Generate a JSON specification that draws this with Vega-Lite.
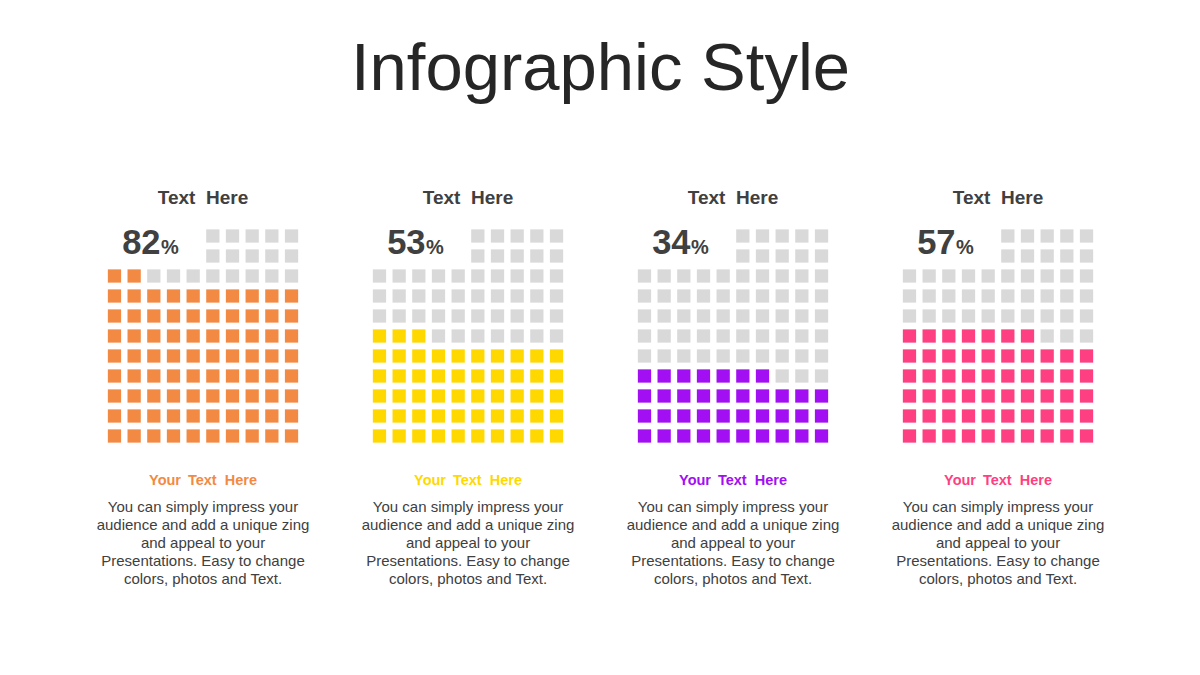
{
"$schema": "https://vega.github.io/schema/vega-lite/v6.json",
"background": "white",
"padding": {"left": 88, "top": 36, "right": 0, "bottom": 0},
"title": {"text": "Infographic Style", "fontSize": 67, "font": "Liberation Sans", "fontWeight": "normal", "color": "#262626", "anchor": "middle", "offset": 72},
"data": {"values": [
{"p":"A","pct":"82","head":"Text\u00a0 Here","sub":"Your\u2009 Text\u00a0 Here","body":["You can simply impress your","audience and add a unique zing","and appeal to your","Presentations. Easy to change","colors, photos and Text."]},
{"p":"B","pct":"53","head":"Text\u00a0 Here","sub":"Your\u2009 Text\u00a0 Here","body":["You can simply impress your","audience and add a unique zing","and appeal to your","Presentations. Easy to change","colors, photos and Text."]},
{"p":"C","pct":"34","head":"Text\u00a0 Here","sub":"Your\u2009 Text\u00a0 Here","body":["You can simply impress your","audience and add a unique zing","and appeal to your","Presentations. Easy to change","colors, photos and Text."]},
{"p":"D","pct":"57","head":"Text\u00a0 Here","sub":"Your\u2009 Text\u00a0 Here","body":["You can simply impress your","audience and add a unique zing","and appeal to your","Presentations. Easy to change","colors, photos and Text."]},

{"p":"A","r":1,"c":6,"f":0},{"p":"A","r":1,"c":7,"f":0},{"p":"A","r":1,"c":8,"f":0},{"p":"A","r":1,"c":9,"f":0},{"p":"A","r":1,"c":10,"f":0},
{"p":"A","r":2,"c":6,"f":0},{"p":"A","r":2,"c":7,"f":0},{"p":"A","r":2,"c":8,"f":0},{"p":"A","r":2,"c":9,"f":0},{"p":"A","r":2,"c":10,"f":0},
{"p":"A","r":3,"c":1,"f":1},{"p":"A","r":3,"c":2,"f":1},{"p":"A","r":3,"c":3,"f":0},{"p":"A","r":3,"c":4,"f":0},{"p":"A","r":3,"c":5,"f":0},{"p":"A","r":3,"c":6,"f":0},{"p":"A","r":3,"c":7,"f":0},{"p":"A","r":3,"c":8,"f":0},{"p":"A","r":3,"c":9,"f":0},{"p":"A","r":3,"c":10,"f":0},
{"p":"A","r":4,"c":1,"f":1},{"p":"A","r":4,"c":2,"f":1},{"p":"A","r":4,"c":3,"f":1},{"p":"A","r":4,"c":4,"f":1},{"p":"A","r":4,"c":5,"f":1},{"p":"A","r":4,"c":6,"f":1},{"p":"A","r":4,"c":7,"f":1},{"p":"A","r":4,"c":8,"f":1},{"p":"A","r":4,"c":9,"f":1},{"p":"A","r":4,"c":10,"f":1},
{"p":"A","r":5,"c":1,"f":1},{"p":"A","r":5,"c":2,"f":1},{"p":"A","r":5,"c":3,"f":1},{"p":"A","r":5,"c":4,"f":1},{"p":"A","r":5,"c":5,"f":1},{"p":"A","r":5,"c":6,"f":1},{"p":"A","r":5,"c":7,"f":1},{"p":"A","r":5,"c":8,"f":1},{"p":"A","r":5,"c":9,"f":1},{"p":"A","r":5,"c":10,"f":1},
{"p":"A","r":6,"c":1,"f":1},{"p":"A","r":6,"c":2,"f":1},{"p":"A","r":6,"c":3,"f":1},{"p":"A","r":6,"c":4,"f":1},{"p":"A","r":6,"c":5,"f":1},{"p":"A","r":6,"c":6,"f":1},{"p":"A","r":6,"c":7,"f":1},{"p":"A","r":6,"c":8,"f":1},{"p":"A","r":6,"c":9,"f":1},{"p":"A","r":6,"c":10,"f":1},
{"p":"A","r":7,"c":1,"f":1},{"p":"A","r":7,"c":2,"f":1},{"p":"A","r":7,"c":3,"f":1},{"p":"A","r":7,"c":4,"f":1},{"p":"A","r":7,"c":5,"f":1},{"p":"A","r":7,"c":6,"f":1},{"p":"A","r":7,"c":7,"f":1},{"p":"A","r":7,"c":8,"f":1},{"p":"A","r":7,"c":9,"f":1},{"p":"A","r":7,"c":10,"f":1},
{"p":"A","r":8,"c":1,"f":1},{"p":"A","r":8,"c":2,"f":1},{"p":"A","r":8,"c":3,"f":1},{"p":"A","r":8,"c":4,"f":1},{"p":"A","r":8,"c":5,"f":1},{"p":"A","r":8,"c":6,"f":1},{"p":"A","r":8,"c":7,"f":1},{"p":"A","r":8,"c":8,"f":1},{"p":"A","r":8,"c":9,"f":1},{"p":"A","r":8,"c":10,"f":1},
{"p":"A","r":9,"c":1,"f":1},{"p":"A","r":9,"c":2,"f":1},{"p":"A","r":9,"c":3,"f":1},{"p":"A","r":9,"c":4,"f":1},{"p":"A","r":9,"c":5,"f":1},{"p":"A","r":9,"c":6,"f":1},{"p":"A","r":9,"c":7,"f":1},{"p":"A","r":9,"c":8,"f":1},{"p":"A","r":9,"c":9,"f":1},{"p":"A","r":9,"c":10,"f":1},
{"p":"A","r":10,"c":1,"f":1},{"p":"A","r":10,"c":2,"f":1},{"p":"A","r":10,"c":3,"f":1},{"p":"A","r":10,"c":4,"f":1},{"p":"A","r":10,"c":5,"f":1},{"p":"A","r":10,"c":6,"f":1},{"p":"A","r":10,"c":7,"f":1},{"p":"A","r":10,"c":8,"f":1},{"p":"A","r":10,"c":9,"f":1},{"p":"A","r":10,"c":10,"f":1},
{"p":"A","r":11,"c":1,"f":1},{"p":"A","r":11,"c":2,"f":1},{"p":"A","r":11,"c":3,"f":1},{"p":"A","r":11,"c":4,"f":1},{"p":"A","r":11,"c":5,"f":1},{"p":"A","r":11,"c":6,"f":1},{"p":"A","r":11,"c":7,"f":1},{"p":"A","r":11,"c":8,"f":1},{"p":"A","r":11,"c":9,"f":1},{"p":"A","r":11,"c":10,"f":1},

{"p":"B","r":1,"c":6,"f":0},{"p":"B","r":1,"c":7,"f":0},{"p":"B","r":1,"c":8,"f":0},{"p":"B","r":1,"c":9,"f":0},{"p":"B","r":1,"c":10,"f":0},
{"p":"B","r":2,"c":6,"f":0},{"p":"B","r":2,"c":7,"f":0},{"p":"B","r":2,"c":8,"f":0},{"p":"B","r":2,"c":9,"f":0},{"p":"B","r":2,"c":10,"f":0},
{"p":"B","r":3,"c":1,"f":0},{"p":"B","r":3,"c":2,"f":0},{"p":"B","r":3,"c":3,"f":0},{"p":"B","r":3,"c":4,"f":0},{"p":"B","r":3,"c":5,"f":0},{"p":"B","r":3,"c":6,"f":0},{"p":"B","r":3,"c":7,"f":0},{"p":"B","r":3,"c":8,"f":0},{"p":"B","r":3,"c":9,"f":0},{"p":"B","r":3,"c":10,"f":0},
{"p":"B","r":4,"c":1,"f":0},{"p":"B","r":4,"c":2,"f":0},{"p":"B","r":4,"c":3,"f":0},{"p":"B","r":4,"c":4,"f":0},{"p":"B","r":4,"c":5,"f":0},{"p":"B","r":4,"c":6,"f":0},{"p":"B","r":4,"c":7,"f":0},{"p":"B","r":4,"c":8,"f":0},{"p":"B","r":4,"c":9,"f":0},{"p":"B","r":4,"c":10,"f":0},
{"p":"B","r":5,"c":1,"f":0},{"p":"B","r":5,"c":2,"f":0},{"p":"B","r":5,"c":3,"f":0},{"p":"B","r":5,"c":4,"f":0},{"p":"B","r":5,"c":5,"f":0},{"p":"B","r":5,"c":6,"f":0},{"p":"B","r":5,"c":7,"f":0},{"p":"B","r":5,"c":8,"f":0},{"p":"B","r":5,"c":9,"f":0},{"p":"B","r":5,"c":10,"f":0},
{"p":"B","r":6,"c":1,"f":1},{"p":"B","r":6,"c":2,"f":1},{"p":"B","r":6,"c":3,"f":1},{"p":"B","r":6,"c":4,"f":0},{"p":"B","r":6,"c":5,"f":0},{"p":"B","r":6,"c":6,"f":0},{"p":"B","r":6,"c":7,"f":0},{"p":"B","r":6,"c":8,"f":0},{"p":"B","r":6,"c":9,"f":0},{"p":"B","r":6,"c":10,"f":0},
{"p":"B","r":7,"c":1,"f":1},{"p":"B","r":7,"c":2,"f":1},{"p":"B","r":7,"c":3,"f":1},{"p":"B","r":7,"c":4,"f":1},{"p":"B","r":7,"c":5,"f":1},{"p":"B","r":7,"c":6,"f":1},{"p":"B","r":7,"c":7,"f":1},{"p":"B","r":7,"c":8,"f":1},{"p":"B","r":7,"c":9,"f":1},{"p":"B","r":7,"c":10,"f":1},
{"p":"B","r":8,"c":1,"f":1},{"p":"B","r":8,"c":2,"f":1},{"p":"B","r":8,"c":3,"f":1},{"p":"B","r":8,"c":4,"f":1},{"p":"B","r":8,"c":5,"f":1},{"p":"B","r":8,"c":6,"f":1},{"p":"B","r":8,"c":7,"f":1},{"p":"B","r":8,"c":8,"f":1},{"p":"B","r":8,"c":9,"f":1},{"p":"B","r":8,"c":10,"f":1},
{"p":"B","r":9,"c":1,"f":1},{"p":"B","r":9,"c":2,"f":1},{"p":"B","r":9,"c":3,"f":1},{"p":"B","r":9,"c":4,"f":1},{"p":"B","r":9,"c":5,"f":1},{"p":"B","r":9,"c":6,"f":1},{"p":"B","r":9,"c":7,"f":1},{"p":"B","r":9,"c":8,"f":1},{"p":"B","r":9,"c":9,"f":1},{"p":"B","r":9,"c":10,"f":1},
{"p":"B","r":10,"c":1,"f":1},{"p":"B","r":10,"c":2,"f":1},{"p":"B","r":10,"c":3,"f":1},{"p":"B","r":10,"c":4,"f":1},{"p":"B","r":10,"c":5,"f":1},{"p":"B","r":10,"c":6,"f":1},{"p":"B","r":10,"c":7,"f":1},{"p":"B","r":10,"c":8,"f":1},{"p":"B","r":10,"c":9,"f":1},{"p":"B","r":10,"c":10,"f":1},
{"p":"B","r":11,"c":1,"f":1},{"p":"B","r":11,"c":2,"f":1},{"p":"B","r":11,"c":3,"f":1},{"p":"B","r":11,"c":4,"f":1},{"p":"B","r":11,"c":5,"f":1},{"p":"B","r":11,"c":6,"f":1},{"p":"B","r":11,"c":7,"f":1},{"p":"B","r":11,"c":8,"f":1},{"p":"B","r":11,"c":9,"f":1},{"p":"B","r":11,"c":10,"f":1},

{"p":"C","r":1,"c":6,"f":0},{"p":"C","r":1,"c":7,"f":0},{"p":"C","r":1,"c":8,"f":0},{"p":"C","r":1,"c":9,"f":0},{"p":"C","r":1,"c":10,"f":0},
{"p":"C","r":2,"c":6,"f":0},{"p":"C","r":2,"c":7,"f":0},{"p":"C","r":2,"c":8,"f":0},{"p":"C","r":2,"c":9,"f":0},{"p":"C","r":2,"c":10,"f":0},
{"p":"C","r":3,"c":1,"f":0},{"p":"C","r":3,"c":2,"f":0},{"p":"C","r":3,"c":3,"f":0},{"p":"C","r":3,"c":4,"f":0},{"p":"C","r":3,"c":5,"f":0},{"p":"C","r":3,"c":6,"f":0},{"p":"C","r":3,"c":7,"f":0},{"p":"C","r":3,"c":8,"f":0},{"p":"C","r":3,"c":9,"f":0},{"p":"C","r":3,"c":10,"f":0},
{"p":"C","r":4,"c":1,"f":0},{"p":"C","r":4,"c":2,"f":0},{"p":"C","r":4,"c":3,"f":0},{"p":"C","r":4,"c":4,"f":0},{"p":"C","r":4,"c":5,"f":0},{"p":"C","r":4,"c":6,"f":0},{"p":"C","r":4,"c":7,"f":0},{"p":"C","r":4,"c":8,"f":0},{"p":"C","r":4,"c":9,"f":0},{"p":"C","r":4,"c":10,"f":0},
{"p":"C","r":5,"c":1,"f":0},{"p":"C","r":5,"c":2,"f":0},{"p":"C","r":5,"c":3,"f":0},{"p":"C","r":5,"c":4,"f":0},{"p":"C","r":5,"c":5,"f":0},{"p":"C","r":5,"c":6,"f":0},{"p":"C","r":5,"c":7,"f":0},{"p":"C","r":5,"c":8,"f":0},{"p":"C","r":5,"c":9,"f":0},{"p":"C","r":5,"c":10,"f":0},
{"p":"C","r":6,"c":1,"f":0},{"p":"C","r":6,"c":2,"f":0},{"p":"C","r":6,"c":3,"f":0},{"p":"C","r":6,"c":4,"f":0},{"p":"C","r":6,"c":5,"f":0},{"p":"C","r":6,"c":6,"f":0},{"p":"C","r":6,"c":7,"f":0},{"p":"C","r":6,"c":8,"f":0},{"p":"C","r":6,"c":9,"f":0},{"p":"C","r":6,"c":10,"f":0},
{"p":"C","r":7,"c":1,"f":0},{"p":"C","r":7,"c":2,"f":0},{"p":"C","r":7,"c":3,"f":0},{"p":"C","r":7,"c":4,"f":0},{"p":"C","r":7,"c":5,"f":0},{"p":"C","r":7,"c":6,"f":0},{"p":"C","r":7,"c":7,"f":0},{"p":"C","r":7,"c":8,"f":0},{"p":"C","r":7,"c":9,"f":0},{"p":"C","r":7,"c":10,"f":0},
{"p":"C","r":8,"c":1,"f":1},{"p":"C","r":8,"c":2,"f":1},{"p":"C","r":8,"c":3,"f":1},{"p":"C","r":8,"c":4,"f":1},{"p":"C","r":8,"c":5,"f":1},{"p":"C","r":8,"c":6,"f":1},{"p":"C","r":8,"c":7,"f":1},{"p":"C","r":8,"c":8,"f":0},{"p":"C","r":8,"c":9,"f":0},{"p":"C","r":8,"c":10,"f":0},
{"p":"C","r":9,"c":1,"f":1},{"p":"C","r":9,"c":2,"f":1},{"p":"C","r":9,"c":3,"f":1},{"p":"C","r":9,"c":4,"f":1},{"p":"C","r":9,"c":5,"f":1},{"p":"C","r":9,"c":6,"f":1},{"p":"C","r":9,"c":7,"f":1},{"p":"C","r":9,"c":8,"f":1},{"p":"C","r":9,"c":9,"f":1},{"p":"C","r":9,"c":10,"f":1},
{"p":"C","r":10,"c":1,"f":1},{"p":"C","r":10,"c":2,"f":1},{"p":"C","r":10,"c":3,"f":1},{"p":"C","r":10,"c":4,"f":1},{"p":"C","r":10,"c":5,"f":1},{"p":"C","r":10,"c":6,"f":1},{"p":"C","r":10,"c":7,"f":1},{"p":"C","r":10,"c":8,"f":1},{"p":"C","r":10,"c":9,"f":1},{"p":"C","r":10,"c":10,"f":1},
{"p":"C","r":11,"c":1,"f":1},{"p":"C","r":11,"c":2,"f":1},{"p":"C","r":11,"c":3,"f":1},{"p":"C","r":11,"c":4,"f":1},{"p":"C","r":11,"c":5,"f":1},{"p":"C","r":11,"c":6,"f":1},{"p":"C","r":11,"c":7,"f":1},{"p":"C","r":11,"c":8,"f":1},{"p":"C","r":11,"c":9,"f":1},{"p":"C","r":11,"c":10,"f":1},

{"p":"D","r":1,"c":6,"f":0},{"p":"D","r":1,"c":7,"f":0},{"p":"D","r":1,"c":8,"f":0},{"p":"D","r":1,"c":9,"f":0},{"p":"D","r":1,"c":10,"f":0},
{"p":"D","r":2,"c":6,"f":0},{"p":"D","r":2,"c":7,"f":0},{"p":"D","r":2,"c":8,"f":0},{"p":"D","r":2,"c":9,"f":0},{"p":"D","r":2,"c":10,"f":0},
{"p":"D","r":3,"c":1,"f":0},{"p":"D","r":3,"c":2,"f":0},{"p":"D","r":3,"c":3,"f":0},{"p":"D","r":3,"c":4,"f":0},{"p":"D","r":3,"c":5,"f":0},{"p":"D","r":3,"c":6,"f":0},{"p":"D","r":3,"c":7,"f":0},{"p":"D","r":3,"c":8,"f":0},{"p":"D","r":3,"c":9,"f":0},{"p":"D","r":3,"c":10,"f":0},
{"p":"D","r":4,"c":1,"f":0},{"p":"D","r":4,"c":2,"f":0},{"p":"D","r":4,"c":3,"f":0},{"p":"D","r":4,"c":4,"f":0},{"p":"D","r":4,"c":5,"f":0},{"p":"D","r":4,"c":6,"f":0},{"p":"D","r":4,"c":7,"f":0},{"p":"D","r":4,"c":8,"f":0},{"p":"D","r":4,"c":9,"f":0},{"p":"D","r":4,"c":10,"f":0},
{"p":"D","r":5,"c":1,"f":0},{"p":"D","r":5,"c":2,"f":0},{"p":"D","r":5,"c":3,"f":0},{"p":"D","r":5,"c":4,"f":0},{"p":"D","r":5,"c":5,"f":0},{"p":"D","r":5,"c":6,"f":0},{"p":"D","r":5,"c":7,"f":0},{"p":"D","r":5,"c":8,"f":0},{"p":"D","r":5,"c":9,"f":0},{"p":"D","r":5,"c":10,"f":0},
{"p":"D","r":6,"c":1,"f":1},{"p":"D","r":6,"c":2,"f":1},{"p":"D","r":6,"c":3,"f":1},{"p":"D","r":6,"c":4,"f":1},{"p":"D","r":6,"c":5,"f":1},{"p":"D","r":6,"c":6,"f":1},{"p":"D","r":6,"c":7,"f":1},{"p":"D","r":6,"c":8,"f":0},{"p":"D","r":6,"c":9,"f":0},{"p":"D","r":6,"c":10,"f":0},
{"p":"D","r":7,"c":1,"f":1},{"p":"D","r":7,"c":2,"f":1},{"p":"D","r":7,"c":3,"f":1},{"p":"D","r":7,"c":4,"f":1},{"p":"D","r":7,"c":5,"f":1},{"p":"D","r":7,"c":6,"f":1},{"p":"D","r":7,"c":7,"f":1},{"p":"D","r":7,"c":8,"f":1},{"p":"D","r":7,"c":9,"f":1},{"p":"D","r":7,"c":10,"f":1},
{"p":"D","r":8,"c":1,"f":1},{"p":"D","r":8,"c":2,"f":1},{"p":"D","r":8,"c":3,"f":1},{"p":"D","r":8,"c":4,"f":1},{"p":"D","r":8,"c":5,"f":1},{"p":"D","r":8,"c":6,"f":1},{"p":"D","r":8,"c":7,"f":1},{"p":"D","r":8,"c":8,"f":1},{"p":"D","r":8,"c":9,"f":1},{"p":"D","r":8,"c":10,"f":1},
{"p":"D","r":9,"c":1,"f":1},{"p":"D","r":9,"c":2,"f":1},{"p":"D","r":9,"c":3,"f":1},{"p":"D","r":9,"c":4,"f":1},{"p":"D","r":9,"c":5,"f":1},{"p":"D","r":9,"c":6,"f":1},{"p":"D","r":9,"c":7,"f":1},{"p":"D","r":9,"c":8,"f":1},{"p":"D","r":9,"c":9,"f":1},{"p":"D","r":9,"c":10,"f":1},
{"p":"D","r":10,"c":1,"f":1},{"p":"D","r":10,"c":2,"f":1},{"p":"D","r":10,"c":3,"f":1},{"p":"D","r":10,"c":4,"f":1},{"p":"D","r":10,"c":5,"f":1},{"p":"D","r":10,"c":6,"f":1},{"p":"D","r":10,"c":7,"f":1},{"p":"D","r":10,"c":8,"f":1},{"p":"D","r":10,"c":9,"f":1},{"p":"D","r":10,"c":10,"f":1},
{"p":"D","r":11,"c":1,"f":1},{"p":"D","r":11,"c":2,"f":1},{"p":"D","r":11,"c":3,"f":1},{"p":"D","r":11,"c":4,"f":1},{"p":"D","r":11,"c":5,"f":1},{"p":"D","r":11,"c":6,"f":1},{"p":"D","r":11,"c":7,"f":1},{"p":"D","r":11,"c":8,"f":1},{"p":"D","r":11,"c":9,"f":1},{"p":"D","r":11,"c":10,"f":1}
]},
"facet": {"column": {"field": "p", "type": "nominal", "sort": ["A","B","C","D"], "header": {"title": null, "labels": false}}},
"spacing": 35,
"spec": {
"width": 230,
"height": 420,
"layer": [
{"transform": [{"filter": "isValid(datum.c)"}],
 "mark": {"type": "point", "shape": "square", "filled": true, "size": 176, "opacity": 1, "strokeWidth": 0},
 "encoding": {
  "x": {"field": "c", "type": "quantitative", "scale": {"domain": [-0.346, 11.346], "nice": false, "zero": false}, "axis": null},
  "y": {"field": "r", "type": "quantitative", "scale": {"domain": [-2, 19], "reverse": true, "nice": false, "zero": false}, "axis": null},
  "color": {"condition": {"test": "datum.f == 0", "value": "#D9D9D9"}, "field": "p", "type": "nominal", "scale": {"domain": ["A","B","C","D"], "range": ["#F28A44","#FFD800","#A10FF2","#FE3F82"]}, "legend": null}
 }},
{"transform": [{"filter": "isValid(datum.pct)"}],
 "mark": {"type": "text", "font": "Liberation Sans", "fontSize": 19, "fontWeight": "bold", "color": "#404040", "align": "center", "baseline": "middle"},
 "encoding": {
  "x": {"datum": 5.5, "type": "quantitative", "axis": null},
  "y": {"datum": -0.9, "type": "quantitative", "axis": null},
  "text": {"field": "head"}
 }},
{"transform": [{"filter": "isValid(datum.pct)"}],
 "mark": {"type": "text", "font": "Liberation Sans", "fontSize": 34.5, "fontWeight": "bold", "color": "#404040", "align": "right", "baseline": "alphabetic"},
 "encoding": {
  "x": {"datum": 3.34, "type": "quantitative", "axis": null},
  "y": {"datum": 1.885, "type": "quantitative", "axis": null},
  "text": {"field": "pct"}
 }},
{"transform": [{"filter": "isValid(datum.pct)"}],
 "mark": {"type": "text", "font": "Liberation Sans", "fontSize": 20, "fontWeight": "bold", "color": "#404040", "align": "left", "baseline": "alphabetic"},
 "encoding": {
  "x": {"datum": 3.37, "type": "quantitative", "axis": null},
  "y": {"datum": 1.885, "type": "quantitative", "axis": null},
  "text": {"value": "%"}
 }},
{"transform": [{"filter": "isValid(datum.pct)"}],
 "mark": {"type": "text", "font": "Liberation Sans", "fontSize": 14.5, "fontWeight": "bold", "align": "center", "baseline": "middle"},
 "encoding": {
  "x": {"datum": 5.5, "type": "quantitative", "axis": null},
  "y": {"datum": 13.25, "type": "quantitative", "axis": null},
  "text": {"field": "sub"},
  "color": {"field": "p", "type": "nominal", "legend": null}
 }},
{"transform": [{"filter": "isValid(datum.pct)"}],
 "mark": {"type": "text", "font": "Liberation Sans", "fontSize": 15, "color": "#404040", "align": "center", "baseline": "top", "lineHeight": 18},
 "encoding": {
  "x": {"datum": 5.5, "type": "quantitative", "axis": null},
  "y": {"datum": 14.2, "type": "quantitative", "axis": null},
  "text": {"field": "body"}
 }}
]
},
"config": {"view": {"stroke": null}}
}
